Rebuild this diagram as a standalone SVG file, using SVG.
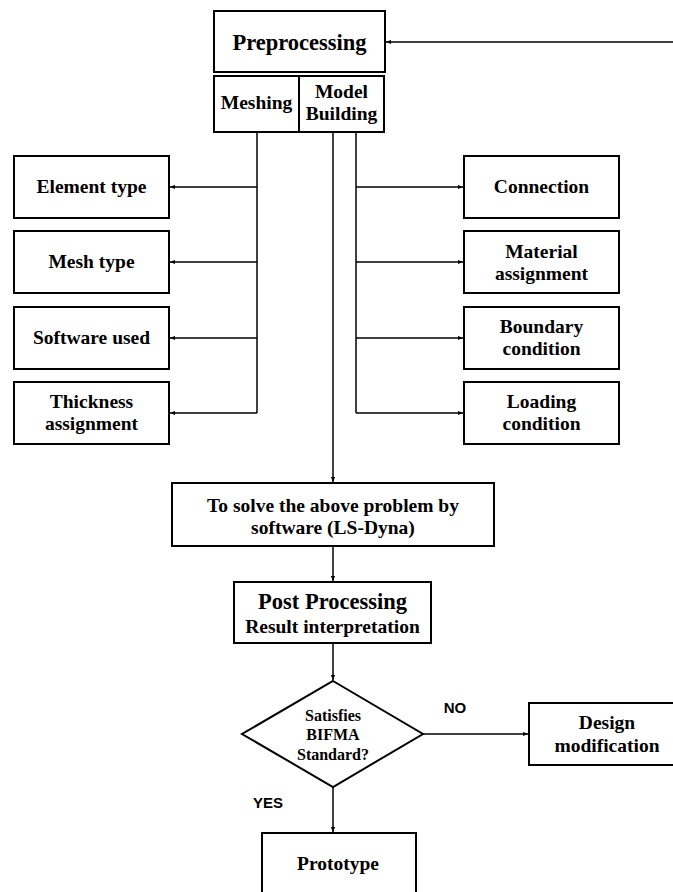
<svg xmlns="http://www.w3.org/2000/svg" width="673" height="892" viewBox="0 0 673 892">
<style>
.box{fill:#fff;stroke:#000;stroke-width:2}
.ln{fill:none;stroke:#000;stroke-width:1.5}
.t{font-family:"Liberation Serif",serif;font-weight:bold;fill:#000;text-anchor:middle;font-size:19.5px}
.big{font-size:22.5px}
.d{font-size:16px}
.s{font-family:"Liberation Sans",sans-serif;font-weight:bold;fill:#000;text-anchor:middle;font-size:15px}
</style>
<defs>
<marker id="ar" viewBox="0 0 6 6" refX="6" refY="3" markerWidth="5" markerHeight="5" markerUnits="userSpaceOnUse" orient="auto"><path d="M0,0.5 L6,3 L0,5.5 Z" fill="#000"/></marker>
</defs>
<g id="connectors">
<path class="ln" d="M673,42 H386" marker-end="url(#ar)"/>
<path class="ln" d="M257,133 V413"/>
<path class="ln" d="M257,187 H170" marker-end="url(#ar)"/>
<path class="ln" d="M257,262 H170" marker-end="url(#ar)"/>
<path class="ln" d="M257,338 H170" marker-end="url(#ar)"/>
<path class="ln" d="M257,413 H170" marker-end="url(#ar)"/>
<path class="ln" d="M356,133 V413"/>
<path class="ln" d="M356,187 H463" marker-end="url(#ar)"/>
<path class="ln" d="M356,262 H463" marker-end="url(#ar)"/>
<path class="ln" d="M356,338 H463" marker-end="url(#ar)"/>
<path class="ln" d="M356,413 H463" marker-end="url(#ar)"/>
<path class="ln" d="M333,133 V482" marker-end="url(#ar)"/>
<path class="ln" d="M333,547 V581" marker-end="url(#ar)"/>
<path class="ln" d="M333,643 V680" marker-end="url(#ar)"/>
<path class="ln" d="M423,734 H528" marker-end="url(#ar)"/>
<path class="ln" d="M333,787 V832" marker-end="url(#ar)"/>
</g>
<g id="preprocessing">
<rect class="box" x="214" y="11" width="171" height="61"/>
<text class="t big" x="299.5" y="50">Preprocessing</text>
</g>
<g id="meshing">
<rect class="box" x="214" y="76" width="85" height="56"/>
<text class="t" x="256.5" y="109">Meshing</text>
</g>
<g id="model-building">
<rect class="box" x="299" y="76" width="85" height="56"/>
<text class="t" x="341.5" y="98">Model</text>
<text class="t" x="341.5" y="120">Building</text>
</g>
<g id="element-type">
<rect class="box" x="14" y="156" width="155" height="62"/>
<text class="t" x="91.5" y="193">Element type</text>
</g>
<g id="mesh-type">
<rect class="box" x="14" y="231" width="155" height="62"/>
<text class="t" x="91.5" y="268">Mesh type</text>
</g>
<g id="software-used">
<rect class="box" x="14" y="307" width="155" height="62"/>
<text class="t" x="91.5" y="344">Software used</text>
</g>
<g id="thickness-assignment">
<rect class="box" x="14" y="382" width="155" height="62"/>
<text class="t" x="91.5" y="408">Thickness</text>
<text class="t" x="91.5" y="430">assignment</text>
</g>
<g id="connection">
<rect class="box" x="464" y="156" width="155" height="62"/>
<text class="t" x="541.5" y="193">Connection</text>
</g>
<g id="material-assignment">
<rect class="box" x="464" y="231" width="155" height="62"/>
<text class="t" x="541.5" y="258">Material</text>
<text class="t" x="541.5" y="280">assignment</text>
</g>
<g id="boundary-condition">
<rect class="box" x="464" y="307" width="155" height="62"/>
<text class="t" x="541.5" y="333">Boundary</text>
<text class="t" x="541.5" y="355">condition</text>
</g>
<g id="loading-condition">
<rect class="box" x="464" y="382" width="155" height="62"/>
<text class="t" x="541.5" y="408">Loading</text>
<text class="t" x="541.5" y="430">condition</text>
</g>
<g id="solve">
<rect class="box" x="172" y="483" width="322" height="63"/>
<text class="t" x="333" y="512">To solve the above problem by</text>
<text class="t" x="333" y="534">software (LS-Dyna)</text>
</g>
<g id="post-processing">
<rect class="box" x="234" y="582" width="197" height="61"/>
<text class="t big" x="332.5" y="609">Post Processing</text>
<text class="t" x="332.5" y="633">Result interpretation</text>
</g>
<g id="decision">
<polygon class="box" points="333,681 423,734 333,787 242,734"/>
<text class="t d" x="333" y="721">Satisfies</text>
<text class="t d" x="333" y="740">BIFMA</text>
<text class="t d" x="333" y="760">Standard?</text>
</g>
<g id="no-label"><text class="s" x="455" y="713">NO</text></g>
<g id="yes-label"><text class="s" x="268" y="808">YES</text></g>
<g id="design-modification">
<rect class="box" x="529" y="703" width="150" height="62"/>
<text class="t" x="607" y="729">Design</text>
<text class="t" x="607" y="752">modification</text>
</g>
<g id="prototype">
<rect class="box" x="262" y="833" width="154" height="70"/>
<text class="t" x="338" y="870">Prototype</text>
</g>
</svg>
